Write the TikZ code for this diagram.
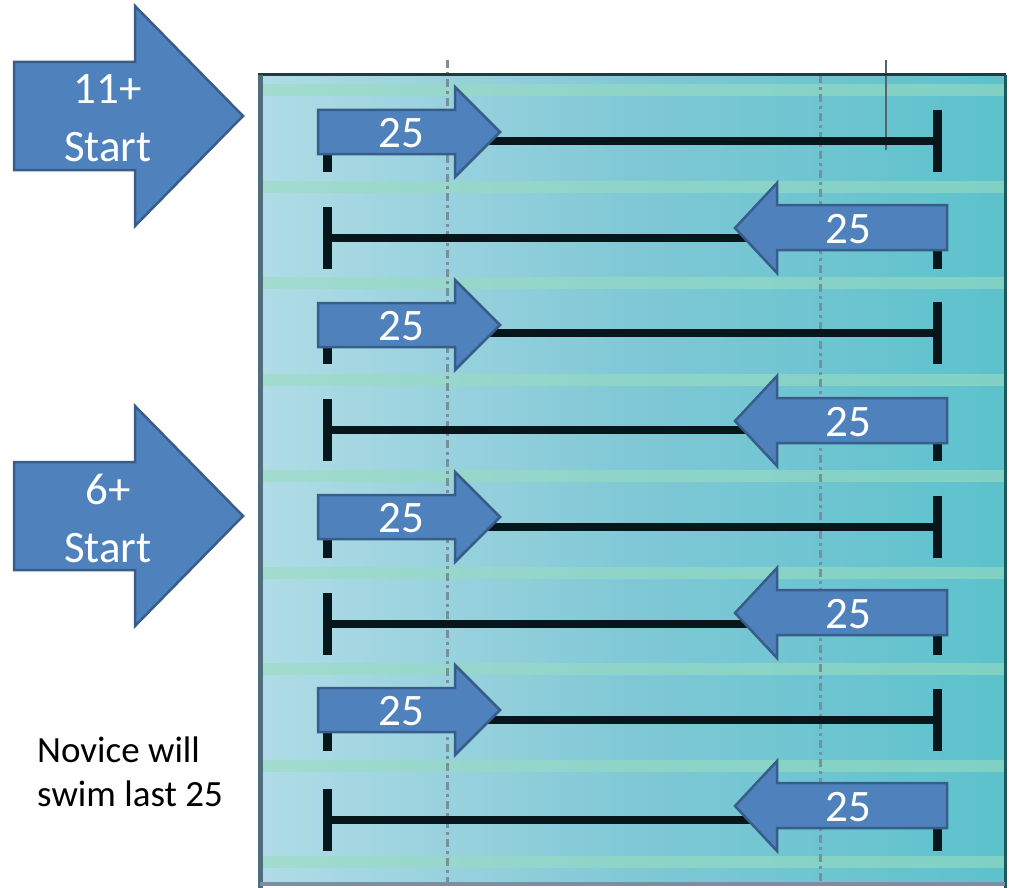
\documentclass[tikz,border=0pt]{standalone}
\usepackage{fontspec}
\setmainfont{Carlito}
\definecolor{arrowfill}{HTML}{4F81BD}
\definecolor{arrowedge}{HTML}{385D8A}
\definecolor{poolL}{HTML}{B0DCE6}
\definecolor{poolM}{HTML}{80C8D6}
\definecolor{poolR}{HTML}{5CC2CC}
\definecolor{stripe}{HTML}{98DCC0}
\definecolor{guide}{HTML}{7A9098}
\definecolor{laneline}{HTML}{06161A}
\definecolor{leftedge}{HTML}{4E6E7E}
\definecolor{bottomedge}{HTML}{7E8EA0}
\definecolor{topedge}{HTML}{1C3C40}
\definecolor{rightedge}{HTML}{1E5A5A}
\tikzset{
  bluearrow/.style={fill=arrowfill, draw=arrowedge, line width=2.5pt, line join=miter},
  lbl/.style={text=white, font=\fontsize{45}{58}\selectfont, inner sep=0pt},
  lanerope/.style={draw=laneline, line width=8pt},
  lanetick/.style={draw=laneline, line width=9pt},
  guideline/.style={draw=guide, line width=3pt, dash pattern=on 8pt off 4pt on 3pt off 4pt},
}
\begin{document}
\begin{tikzpicture}[x=1pt,y=-1pt]
\useasboundingbox (0,0) rectangle (1009,888);
% pool
\shade[left color=poolL, right color=poolR, middle color=poolM] (260,75) rectangle (1005,884);
\foreach \s in {90,186.5,283,379.5,476,572.5,669,765.5,862}
  \fill[stripe, opacity=0.6] (260,\s-6) rectangle (1005,\s+6);
\draw[guideline] (447,60) -- (447,884);
\draw[guideline] (820,75) -- (820,884);
\draw[draw=guide!70!black, line width=1.5pt] (886,60) -- (886,150);
\draw[draw=topedge, line width=3pt] (258,75) -- (1006,75);
\draw[draw=rightedge, line width=3pt] (1005,75) -- (1005,888);
\draw[draw=leftedge, line width=5pt] (260,75) -- (260,888);
\draw[draw=bottomedge, line width=4pt] (260,884) -- (1005,884);
% lanes with arrows to the right
\foreach \c/\l [count=\i] in {132/141, 325/333, 517/527, 710/720}{
  \coordinate (rs\i) at (327,\l);
  \coordinate (re\i) at (937,\l);
  \draw[lanerope] (rs\i) -- (re\i);
  \draw[lanetick] ([yshift=31pt]rs\i) -- ([yshift=-31pt]rs\i);
  \draw[lanetick] ([yshift=31pt]re\i) -- ([yshift=-31pt]re\i);
  \filldraw[bluearrow] (318,\c-22) -- (455,\c-22) -- (455,\c-45) -- (500,\c) -- (455,\c+45) -- (455,\c+22) -- (318,\c+22) -- cycle;
  \node[lbl, anchor=base] (r\i) at (401,\c+15) {25};
}
% lanes with arrows to the left
\foreach \c/\l [count=\i] in {228/238, 421/430, 613/624, 806/820}{
  \coordinate (ls\i) at (327,\l);
  \coordinate (le\i) at (937,\l);
  \draw[lanerope] (ls\i) -- (le\i);
  \draw[lanetick] ([yshift=31pt]ls\i) -- ([yshift=-31pt]ls\i);
  \draw[lanetick] ([yshift=31pt]le\i) -- ([yshift=-31pt]le\i);
  \filldraw[bluearrow] (947,\c-23) -- (777,\c-23) -- (777,\c-45) -- (735,\c) -- (777,\c+45) -- (777,\c+22) -- (947,\c+22) -- cycle;
  \node[lbl, anchor=base] (l\i) at (848,\c+15) {25};
}
% start arrows
\foreach \c/\t [count=\i] in {116/11+, 516/6+}{
  \filldraw[bluearrow] (14,\c-54) -- (135,\c-54) -- (135,\c-110) -- (243,\c) -- (135,\c+110) -- (135,\c+54) -- (14,\c+54) -- cycle;
  \node[lbl, align=center] (start\i) at (108,\c+2.5) {\t\\Start};
}
\node[inner sep=0pt, align=left, anchor=west, font=\fontsize{37}{44}\selectfont] (novice) at (37,772) {Novice will\\swim last 25};
\end{tikzpicture}
\end{document}
